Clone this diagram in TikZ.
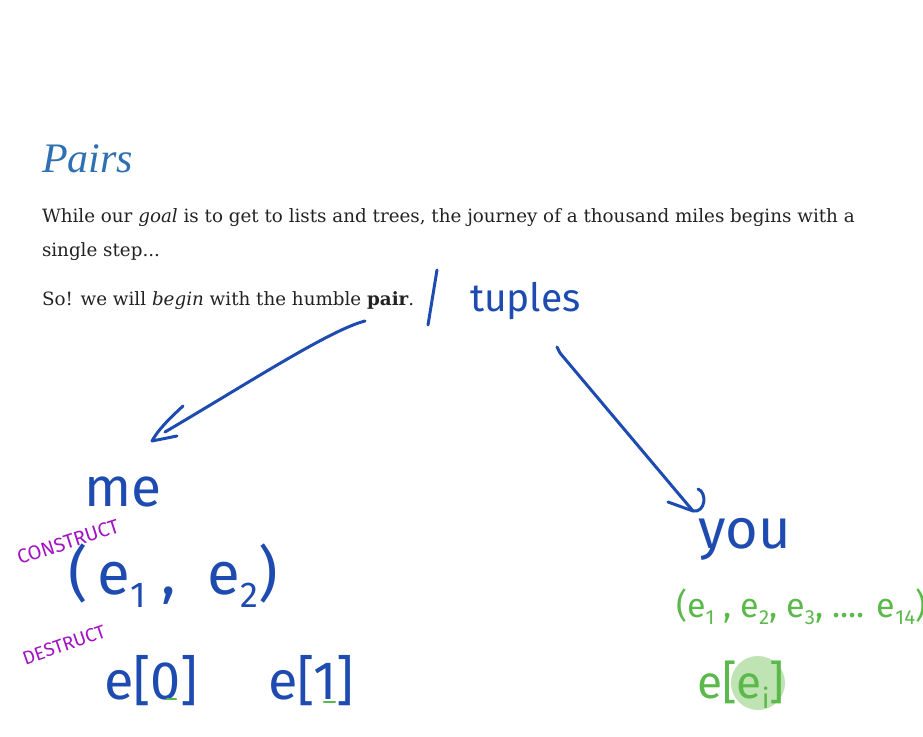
\documentclass[tikz,border=0pt]{standalone}
\usepackage{fontspec}
\setmainfont{DejaVu Serif}
\newfontfamily\titlefont{Liberation Serif}
\newfontfamily\hand{Fira Sans}
\definecolor{ink}{HTML}{1E4BB0}
\definecolor{plum}{HTML}{A214C2}
\definecolor{leaf}{HTML}{5BB84A}
\definecolor{glow}{HTML}{BFE3B2}
\definecolor{heading}{HTML}{2F70B2}
\definecolor{prose}{HTML}{222222}
% small lowered index used in the handwritten notes
\newcommand\lowidx[1]{\raisebox{-0.22em}{\scalebox{0.6}{#1}}}
\begin{document}
\begin{tikzpicture}[x=1pt,y=-1pt,inner sep=0pt,outer sep=0pt,
  body/.style={anchor=base west,text=prose,font=\fontsize{18.3}{22}\selectfont},
  pen/.style={draw=ink,line width=3pt,line cap=round,line join=round},
  greenpen/.style={draw=leaf,line width=2.6pt,line cap=round},
  note/.style={anchor=base west,text=ink},
  greennote/.style={anchor=base west,text=leaf},
  tag/.style={anchor=center,text=plum,font=\hand\fontsize{20}{20}\selectfont}]
\useasboundingbox (0,0) rectangle (923,736);

% heading and prose
\node[anchor=base west,text=heading,font=\titlefont\itshape\fontsize{42}{42}\selectfont] (title) at (42,172) {Pairs};
\node[body] (line1) at (42,222) {While our \textit{goal} is to get to lists and trees, the journey of a thousand miles begins with a};
\node[body] (line2) at (42,256) {single step...};
\node[body] (line3) at (42,305) {So! we will \textit{begin} with the humble \textbf{pair}.};

% handwritten notes
\draw[pen] (437,270) -- (428,325);
\node[note,font=\hand\fontsize{39}{39}\selectfont] (tuples) at (470,311) {tuples};

\node[note,font=\hand\fontsize{55}{55}\selectfont] (me) at (84,506) {me};
\node[tag,rotate=18] (construct) at (68,542) {CONSTRUCT};
\node[note,font=\hand\fontsize{60}{60}\selectfont] (pair) at (68,594) {(\,e\lowidx{1}\ ,\ \ e\lowidx{2})};
\node[tag,font=\hand\fontsize{19}{19}\selectfont,rotate=19] (destruct) at (64,645) {DESTRUCT};
\node[note,font=\hand\fontsize{54}{54}\selectfont] (first) at (104,699) {e[0]};
\node[note,font=\hand\fontsize{54}{54}\selectfont] (second) at (268,699) {e[1]};
\draw[greenpen] (167,699) -- (176,699);
\draw[greenpen] (324,702) -- (335,702);

\node[note,font=\hand\fontsize{56}{56}\selectfont] (you) at (698,548) {you};
\node[greennote,font=\hand\fontsize{34}{34}\selectfont] (tuple) at (676,617) {(e\lowidx{1} , e\lowidx{2}, e\lowidx{3}, .... e\lowidx{14})};
\fill[glow] (758,683) circle (27);
\node[greennote,font=\hand\fontsize{46}{46}\selectfont] (index) at (697,698) {e[e\lowidx{i}]};

% arrows from the tuples note down to each side
\coordinate (lstart) at (365,321);
\coordinate (ltip) at (152,441);
\coordinate (rstart) at (557,347);
\coordinate (rtip) at (693,511);
\draw[pen] (lstart) .. controls (330,330) and (250,382) .. (165,432);
\draw[pen] (183,406) .. controls (168,420) and (158,430) .. (ltip) -- (177,436);
\draw[pen] (rstart) -- (560,353) -- (rtip);
\draw[pen] (668,502) -- (rtip) .. controls (706,513) and (707,492) .. (698,489);
\end{tikzpicture}
\end{document}
